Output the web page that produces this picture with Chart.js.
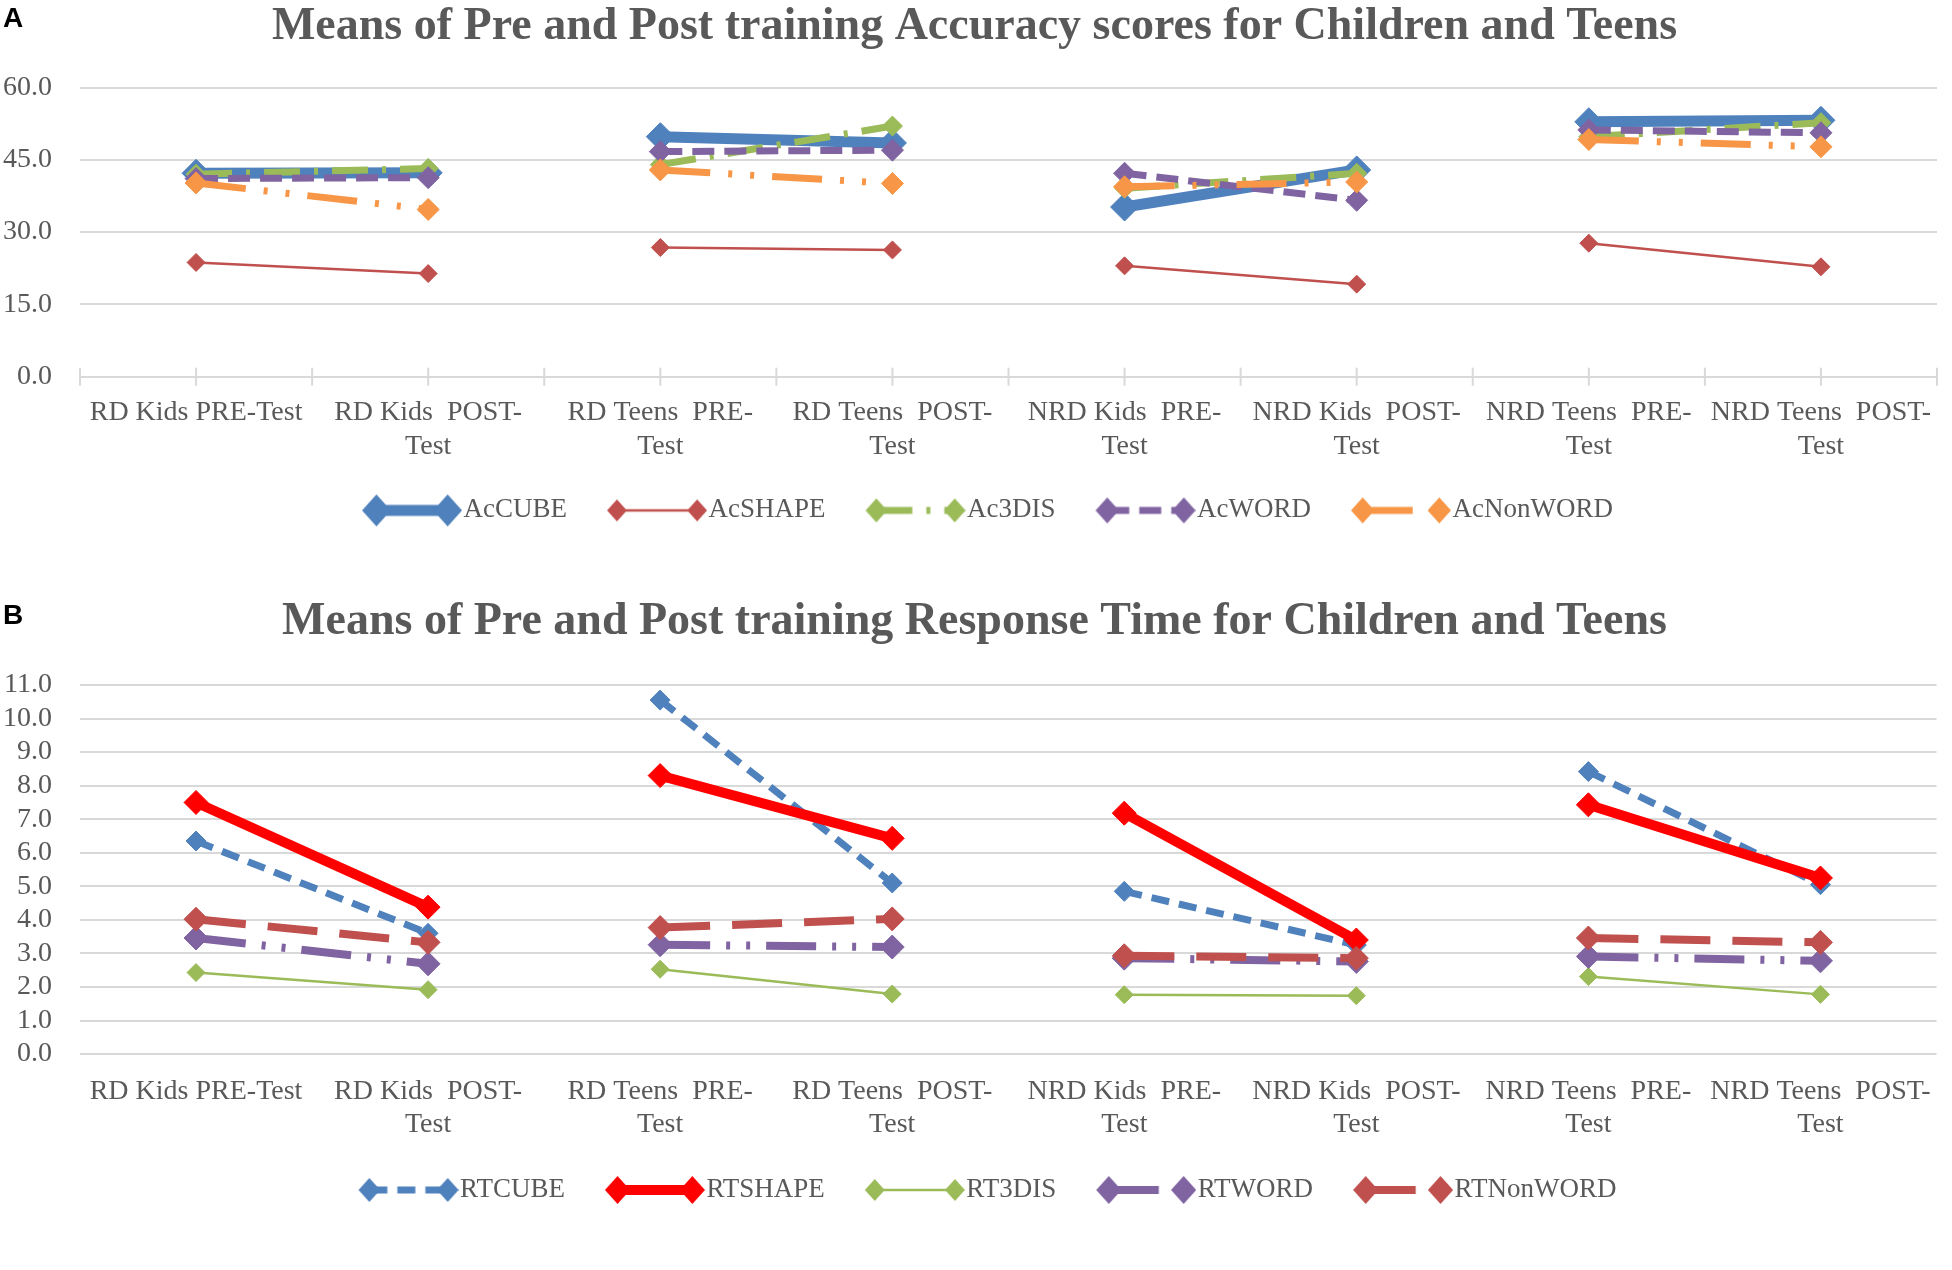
<!DOCTYPE html>
<html>
<head>
<meta charset="utf-8">
<script src="https://cdn.jsdelivr.net/npm/chart.js@4.4.0/dist/chart.umd.min.js"></script>
<style>
  html, body { margin: 0; padding: 0; background: #fff; }
  body { width: 1952px; height: 1270px; position: relative; overflow: hidden; }
  canvas { position: absolute; left: 0; }
  .tag { position: absolute; left: 3px; z-index: 2; font: bold 28px "Liberation Sans", Arial, sans-serif; line-height: 28px; color: #000; }
</style>
</head>
<body>
<canvas id="accChart" style="top:0" width="1952" height="590"></canvas>
<canvas id="rtChart" style="top:590px" width="1952" height="680"></canvas>
<div class="tag" style="top:4px">A</div>
<div class="tag" style="top:601px">B</div>
<script>
const categories = [
  'RD Kids PRE-Test', ['RD Kids  POST-', 'Test'],
  ['RD Teens  PRE-', 'Test'], ['RD Teens  POST-', 'Test'],
  ['NRD Kids  PRE-', 'Test'], ['NRD Kids  POST-', 'Test'],
  ['NRD Teens  PRE-', 'Test'], ['NRD Teens  POST-', 'Test']
];

// accuracy means (panel A)
const acCube    = [42.2, 42.3, 49.8, 48.5, 35.2, 42.9, 52.9, 53.2];
const acShape   = [23.7, 21.4, 26.8, 26.3, 23.0, 19.2, 27.7, 22.8];
const ac3dis    = [42.0, 43.2, 44.0, 52.0, 39.1, 42.2, 49.8, 52.7];
const acWord    = [41.1, 41.3, 46.7, 47.0, 42.2, 36.6, 51.2, 50.6];
const acNonWord = [40.2, 34.7, 42.9, 40.1, 39.4, 40.4, 49.2, 47.7];

// response time means (panel B)
const rtCube    = [6.35, 3.6, 10.55, 5.1, 4.85, 3.25, 8.42, 5.05];
const rtShape   = [7.5, 4.38, 8.3, 6.43, 7.18, 3.4, 7.43, 5.25];
const rt3dis    = [2.43, 1.92, 2.53, 1.79, 1.77, 1.74, 2.31, 1.78];
const rtWord    = [3.46, 2.69, 3.26, 3.19, 2.86, 2.76, 2.91, 2.78];
const rtNonWord = [4.02, 3.33, 3.77, 4.03, 2.93, 2.86, 3.46, 3.33];

const serif = 'Liberation Serif';
const grey = '#595959';
const gridGrey = '#D9D9D9';
const blue = '#4F81BD', red = '#C0504D', green = '#9BBB59', purple = '#8064A2', orange = '#F79646';
const sampleWidth = 114;

function series(label, data, color, width, dash, radius) {
  return {
    label: label,
    data: data,
    borderColor: color,
    backgroundColor: color,
    borderWidth: width,
    borderDash: dash,
    pointStyle: 'rectRot',
    pointRadius: radius,
    pointHoverRadius: radius,
    pointBackgroundColor: color,
    pointBorderColor: color,
    pointBorderWidth: 1,
    tension: 0,
    fill: false,
    // only pre -> post of the same group are joined
    segment: { borderColor: ctx => ctx.p0DataIndex % 2 ? 'rgba(0,0,0,0)' : undefined }
  };
}

// legend picture: line with a diamond at each end, like excel
function legendSample(ds) {
  const c = document.createElement('canvas');
  c.width = sampleWidth + 24;
  c.height = 38;
  const g = c.getContext('2d');
  const x0 = c.width - 100, x1 = c.width, cy = 19;
  const r = Math.min(ds.pointRadius + 2, 16);
  const rw = r * 0.9;
  g.strokeStyle = ds.borderColor;
  g.lineWidth = ds.borderWidth;
  g.setLineDash(ds.borderDash || []);
  g.beginPath();
  g.moveTo(x0 + rw, cy);
  g.lineTo(x1 - rw, cy);
  g.stroke();
  g.setLineDash([]);
  g.fillStyle = ds.borderColor;
  [x0 + rw, x1 - rw].forEach(cx => {
    g.beginPath();
    g.moveTo(cx, cy - r);
    g.lineTo(cx + rw, cy);
    g.lineTo(cx, cy + r);
    g.lineTo(cx - rw, cy);
    g.closePath();
    g.fill();
  });
  return c;
}

const tickMarks = {
  id: 'tickMarks',
  afterDraw(chart) {
    const x = chart.scales.x, y0 = chart.chartArea.bottom, ctx = chart.ctx;
    ctx.save();
    ctx.strokeStyle = gridGrey;
    ctx.lineWidth = 2;
    for (let v = -0.5; v <= categories.length - 0.5; v += 0.5) {
      const px = x.getPixelForValue(v);
      ctx.beginPath();
      ctx.moveTo(px, y0 - 9);
      ctx.lineTo(px, y0 + 9);
      ctx.stroke();
    }
    ctx.restore();
  }
};

function makeChart(id, datasets, cfg) {
  datasets.forEach((d, i) => { d.order = datasets.length - i; });
  return new Chart(document.getElementById(id), {
    type: 'line',
    data: { labels: categories, datasets: datasets },
    options: {
      responsive: false,
      animation: false,
      devicePixelRatio: 1,
      layout: { padding: cfg.padding },
      plugins: {
        title: {
          display: true,
          text: cfg.title,
          color: grey,
          font: { family: serif, size: 46, weight: 'bold' },
          padding: cfg.titlePadding
        },
        legend: {
          position: 'bottom',
          labels: {
            usePointStyle: true,
            pointStyleWidth: sampleWidth,
            padding: 14,
            color: grey,
            font: { family: serif, size: 27 },
            generateLabels: chart => chart.data.datasets.map((ds, i) => ({
              text: ds.label,
              pointStyle: legendSample(ds),
              datasetIndex: i,
              fontColor: grey,
              lineWidth: 0,
              strokeStyle: 'rgba(0,0,0,0)',
              fillStyle: 'rgba(0,0,0,0)',
              hidden: false
            }))
          }
        },
        tooltip: { enabled: false }
      },
      scales: {
        x: {
          offset: true,
          grid: { display: false, drawTicks: false },
          border: { display: cfg.axisLine, color: gridGrey, width: 2 },
          ticks: {
            color: grey,
            font: { family: serif, size: 28 },
            padding: cfg.labelPadding,
            maxRotation: 0,
            minRotation: 0,
            autoSkip: false
          }
        },
        y: {
          min: 0,
          max: cfg.max,
          afterFit: s => { s.width = 80; },
          border: { display: false },
          grid: { color: gridGrey, lineWidth: 2, drawTicks: false },
          ticks: {
            stepSize: cfg.step,
            autoSkip: false,
            color: grey,
            font: { family: serif, size: 28 },
            padding: 28,
            callback: v => v.toFixed(1)
          }
        }
      }
    },
    plugins: cfg.axisLine ? [tickMarks] : []
  });
}

makeChart('accChart', [
  series('AcCUBE', acCube, blue, 11, [], 14),
  series('AcSHAPE', acShape, red, 2.5, [], 9),
  series('Ac3DIS', ac3dis, green, 7, [36, 14, 4, 14], 10),
  series('AcWORD', acWord, purple, 7, [22, 10], 11),
  series('AcNonWORD', acNonWord, orange, 7, [50, 18, 4, 18, 4, 18], 11)
], {
  title: 'Means of Pre and Post training Accuracy scores for Children and Teens',
  titlePadding: { top: 0, bottom: 32.3 },
  padding: { left: 0, right: 3, top: 0, bottom: 56.1 },
  labelPadding: 19.5,
  axisLine: true,
  max: 60,
  step: 15
});

makeChart('rtChart', [
  series('RTCUBE', rtCube, blue, 7, [18, 10], 10),
  series('RTSHAPE', rtShape, '#FF0000', 10, [], 12),
  series('RT3DIS', rt3dis, green, 2.5, [], 9),
  series('RTWORD', rtWord, purple, 8, [50, 16, 4, 16, 4, 16], 12),
  series('RTNonWORD', rtNonWord, red, 8, [50, 22], 12)
], {
  title: 'Means of Pre and Post training Response Time for Children and Teens',
  titlePadding: { top: 4.4, bottom: 35.4 },
  padding: { left: 0, right: 3, top: 0, bottom: 56.5 },
  labelPadding: 20.6,
  axisLine: false,
  max: 11,
  step: 1
});
</script>
</body>
</html>
